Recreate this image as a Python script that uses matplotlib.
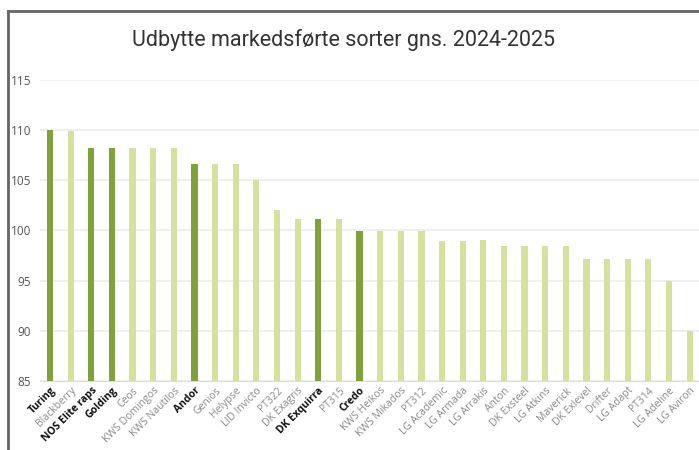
import matplotlib
matplotlib.use("Agg")
from matplotlib import pyplot as plt
from matplotlib.lines import Line2D

# data
sorter = ['Turing', 'Blackberry', 'NOS Elite raps', 'Golding', 'Ceos', 'KWS Domingos',
          'KWS Nautilos', 'Andor', 'Genios', 'Helypse', 'LID Invicto', 'PT322',
          'DK Exagris', 'DK Exquirra', 'PT315', 'Credo', 'KWS Heikos', 'KWS Mikados',
          'PT312', 'LG Academic', 'LG Armada', 'LG Arrakis', 'Anton', 'DK Exsteel',
          'LG Atkins', 'Maverick', 'DK Exlevel', 'Drifter', 'LG Adapt', 'PT314',
          'LG Adeline', 'LG Aviron']
udbytte = [110, 109.9, 108.2, 108.2, 108.2, 108.2, 108.2, 106.6, 106.6, 106.6, 105,
           102, 101.1, 101.1, 101.1, 99.9, 99.9, 99.9, 99.9, 99.0, 99.0, 99.1,
           98.5, 98.5, 98.5, 98.5, 97.2, 97.2, 97.2, 97.2, 95.0, 90.0]
fremhaevet = ['Turing', 'NOS Elite raps', 'Golding', 'Andor', 'DK Exquirra', 'Credo']
yticks = [85, 90, 95, 100, 105, 110, 115]

dark = '#7fa33a'
light = '#d5e19c'

fig = plt.figure(figsize=(6.99, 4.5), dpi=100)
ax = fig.add_axes([0.0568, 0.1533, 0.9446, 0.669])

x = list(range(len(sorter)))
colors = [dark if s in fremhaevet else light for s in sorter]
ax.bar(x, [v - 85 for v in udbytte], bottom=85, width=0.3, color=colors, zorder=3)

ax.set_xlim(-0.5, len(sorter) - 0.5)
ax.set_ylim(85, 115)
ax.set_yticks(yticks)
ax.set_yticklabels([str(t) for t in yticks], fontsize=8.5, color='#555555', fontfamily='Open Sans')
ax.grid(axis='y', color='#ebebeb', linewidth=1.1, zorder=0)
ax.tick_params(length=0)
ax.tick_params(axis='y', pad=6)

ax.set_xticks(x)
ax.set_xticklabels(sorter, rotation=45, ha='right', rotation_mode='anchor', fontsize=7.5,
                   fontfamily='Open Sans')
for lbl in ax.get_xticklabels():
    if lbl.get_text() in fremhaevet:
        lbl.set_fontweight('bold')
        lbl.set_color('#111111')
    else:
        lbl.set_color('#8a8a8a')
ax.tick_params(axis='x', pad=3)

for s in ['top', 'right', 'left']:
    ax.spines[s].set_visible(False)
ax.spines['bottom'].set_color('#dddddd')
ax.set_facecolor('none')

# frame
fig.add_artist(Line2D([8 / 699, 1], [1 - 11 / 450, 1 - 11 / 450], color='#666666', linewidth=2))
fig.add_artist(Line2D([8 / 699, 8 / 699], [0, 1 - 11 / 450], color='#666666', linewidth=2))

fig.text(0.491, 1 - 40 / 450, 'Udbytte markedsførte sorter gns. 2024-2025', ha='center', va='center',
         fontsize=15.5, color='#333333', fontfamily='Roboto')

plt.savefig('out.png', dpi=100)
